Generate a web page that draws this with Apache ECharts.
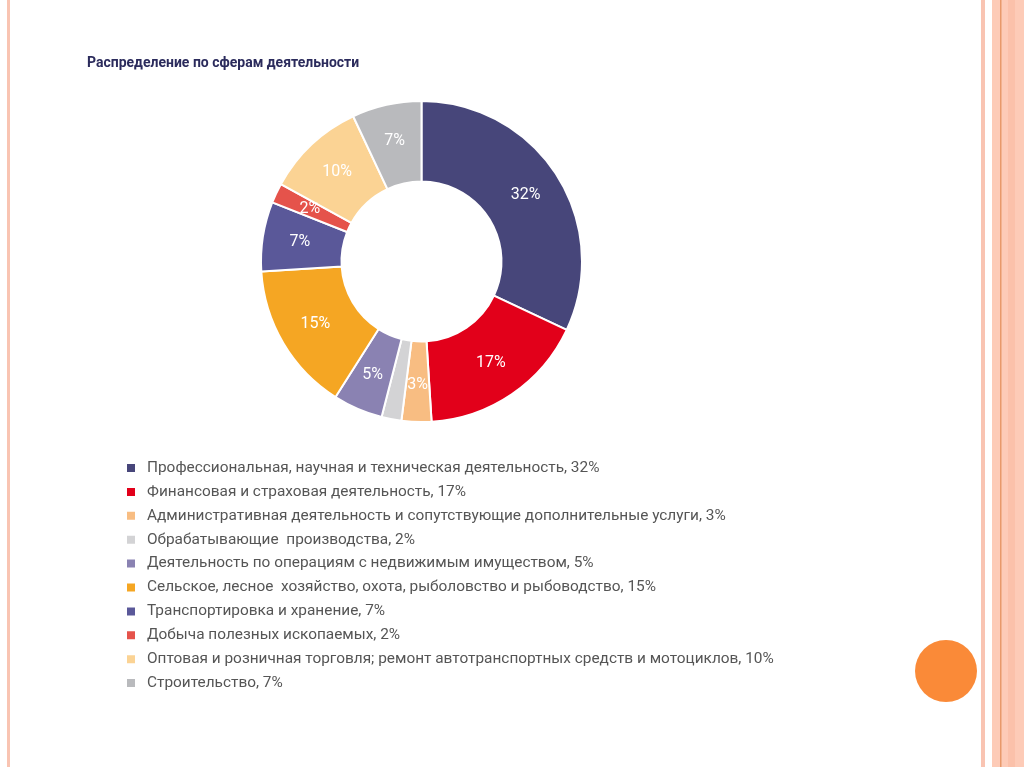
<!DOCTYPE html>
<html><head><meta charset="utf-8">
<script src="https://cdn.jsdelivr.net/npm/echarts@6/dist/echarts.min.js"></script>
<style>html,body{margin:0;padding:0;background:#fff}#c{width:1024px;height:767px}</style>
</head><body><div id="c"></div>
<script>
const categories = [
  "Профессиональная, научная и техническая деятельность",
  "Финансовая и страховая деятельность",
  "Административная деятельность и сопутствующие дополнительные услуги",
  "Обрабатывающие  производства",
  "Деятельность по операциям с недвижимым имуществом",
  "Сельское, лесное  хозяйство, охота, рыболовство и рыбоводство",
  "Транспортировка и хранение",
  "Добыча полезных ископаемых",
  "Оптовая и розничная торговля; ремонт автотранспортных средств и мотоциклов",
  "Строительство"
];
const shares = [32, 17, 3, 2, 5, 15, 7, 2, 10, 7];
const colors = ["#47467a", "#e2001a", "#f8bd82", "#d3d3d5", "#8a82b2", "#f5a623", "#5a5899", "#e5534b", "#fbd394", "#b9babd"];
const titleText = "Распределение по сферам деятельности";

const chart = echarts.init(document.getElementById('c'));
const data = categories.map((n, i) => ({ name: n, value: shares[i], itemStyle: { color: colors[i] } }));
chart.setOption({
  backgroundColor: '#fff',
  animation: false,
  title: {
    text: titleText, left: 82, top: 51,
    textStyle: { fontFamily: 'Roboto', fontWeight: 'bold', fontSize: 14, color: '#2b2b5c' }
  },
  legend: {
    orient: 'vertical', left: 120, top: 455, itemGap: 7.9,
    icon: 'rect', itemWidth: 10, itemHeight: 10,
    textStyle: { fontFamily: 'Roboto', fontSize: 15.4, lineHeight: 16, color: '#555', padding: [0, 0, 0, 6] },
    formatter: function (name) { const i = categories.indexOf(name); return name + ', ' + shares[i] + '%'; },
    selectedMode: false
  },
  graphic: [
    { type: 'rect', shape: { x: 7, y: 0, width: 3, height: 767 }, style: { fill: '#f9c4b2' } },
    { type: 'rect', shape: { x: 981, y: 0, width: 4, height: 767 }, style: { fill: '#f9c4b2' } },
    { type: 'rect', shape: { x: 992, y: 0, width: 32, height: 767 }, style: { fill: '#fdcbb7' } },
    { type: 'rect', shape: { x: 1008, y: 0, width: 7, height: 767 }, style: { fill: '#fbc1aa' } },
    { type: 'rect', shape: { x: 1000, y: 0, width: 1.5, height: 767 }, style: { fill: '#e8996a' } },
    { type: 'circle', shape: { cx: 946, cy: 671, r: 31 }, style: { fill: '#fa8a38' } }
  ],
  series: [{
    type: 'pie',
    center: [421.5, 261.5], radius: [80, 160.5],
    startAngle: 90, clockwise: true,
    itemStyle: { borderColor: '#fff', borderWidth: 2 },
    label: {
      show: true, position: 'inside', formatter: '{c}%',
      color: '#fff', fontFamily: 'Roboto', fontSize: 16
    },
    labelLine: { show: false },
    emphasis: { disabled: true },
    data: data
  }]
});
</script></body></html>
